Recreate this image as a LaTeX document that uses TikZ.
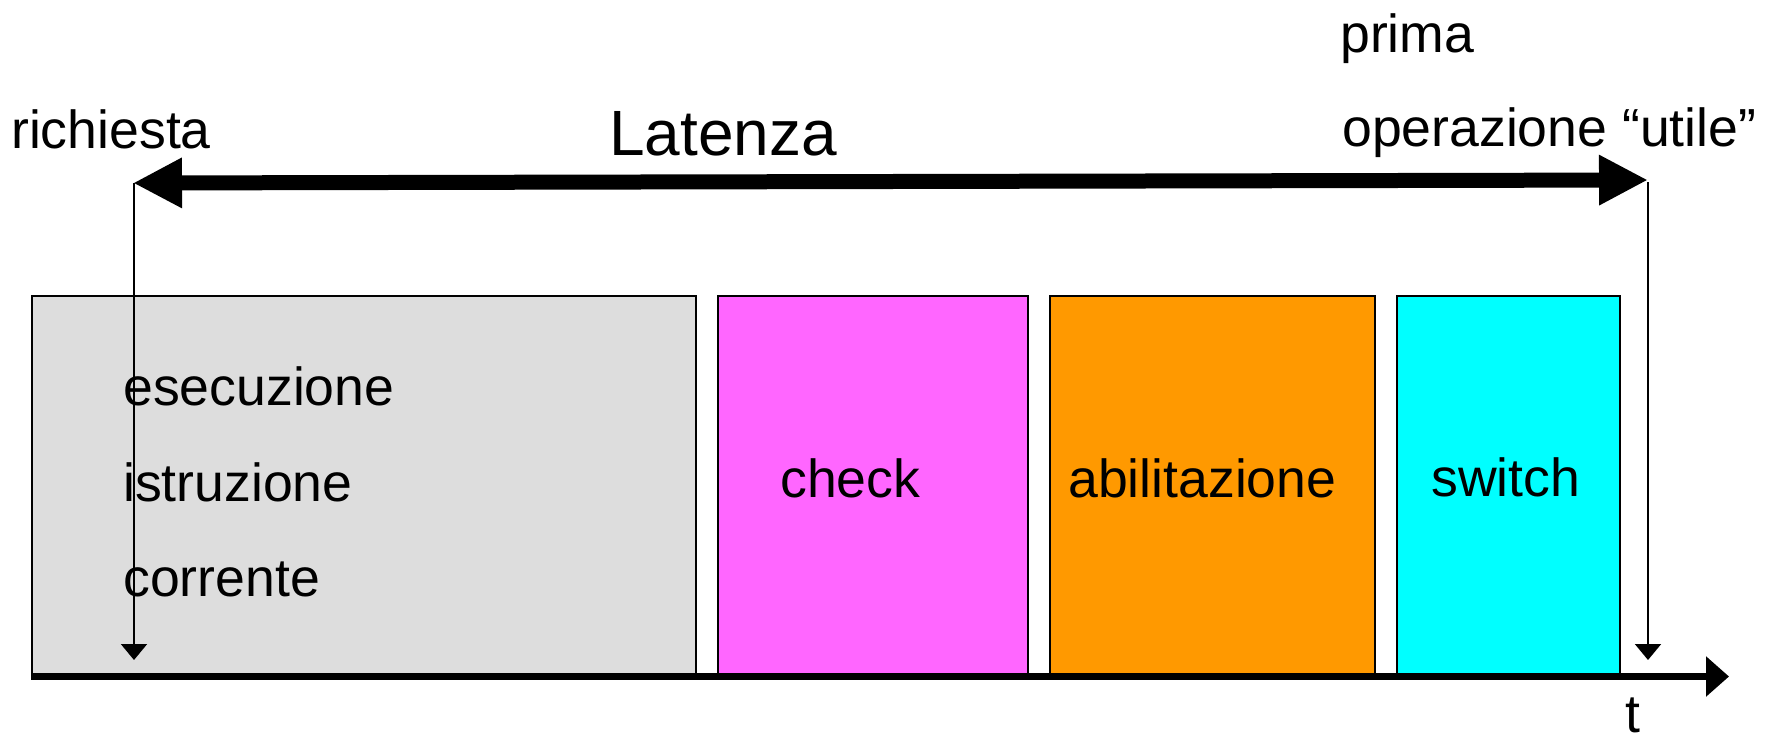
\documentclass[tikz,border=0pt]{standalone}
\usepackage{fontspec}
\setmainfont{Liberation Sans}
\usetikzlibrary{arrows.meta}
\definecolor{boxgray}{HTML}{DDDDDD}
\definecolor{boxpink}{HTML}{FF66FF}
\definecolor{boxorange}{HTML}{FF9900}
\definecolor{boxcyan}{HTML}{00FFFF}
\tikzset{
  phase/.style={draw=black, line width=2pt, rectangle, anchor=north west, inner sep=0pt, minimum height=378pt},
  lbl/.style={anchor=base west, inner sep=0pt, font=\fontsize{53.6}{60}\selectfont},
  biglbl/.style={anchor=base west, inner sep=0pt, font=\fontsize{64}{70}\selectfont},
  latarrow/.style={line width=15pt, {Triangle[length=49pt,width=47pt]}-{Triangle[length=49pt,width=47pt]}},
  markarrow/.style={line width=2pt, -{Triangle[length=16pt,width=26pt]}},
  axisarrow/.style={line width=7pt, -{Triangle[length=23pt,width=39pt]}}
}
\begin{document}
\begin{tikzpicture}[x=1pt,y=-1pt]
\path[fill=white, use as bounding box] (0,0) rectangle (1767,737);
% phase boxes
\node[phase, fill=boxgray, minimum width=664pt] (exec) at (31,295) {};
\node[phase, fill=boxpink, minimum width=310pt] (check) at (717,295) {};
\node[phase, fill=boxorange, minimum width=325pt] (abil) at (1049,295) {};
\node[phase, fill=boxcyan, minimum width=223pt] (switch) at (1396,295) {};
% texts
\node[lbl] (t1) at (123,405) {esecuzione};
\node[lbl] (t2) at (123,501) {istruzione};
\node[lbl] (t3) at (123,596) {corrente};
\node[lbl] (tcheck) at (780,497) {check};
\node[lbl] (tabil) at (1068,497) {abilitazione};
\node[lbl] (tswitch) at (1431,496) {switch};
\node[lbl] (req) at (11,148) {richiesta};
\node[lbl] (prima) at (1340,52) {prima};
\node[lbl] (oper) at (1342,146) {operazione “utile”};
\node[biglbl] (lat) at (609,155) {Latenza};
\node[lbl] (tlab) at (1625,732) {t};
% coordinates
\coordinate (Lstart) at (133,183);
\coordinate (Lend) at (1648,180);
\coordinate (Rtop) at (1648,182);
\coordinate (Ltop) at (134,183);
\coordinate (Lbot) at (134,660);
\coordinate (Rbot) at (1648,660);
\coordinate (Astart) at (31,676.5);
\coordinate (Aend) at (1729,676.5);
% arrows
\draw[markarrow] (Ltop) -- (Lbot);
\draw[markarrow] (Rtop) -- (Rbot);
\draw[latarrow] (Lstart) -- (Lend);
\draw[axisarrow] (Astart) -- (Aend);
\end{tikzpicture}
\end{document}
